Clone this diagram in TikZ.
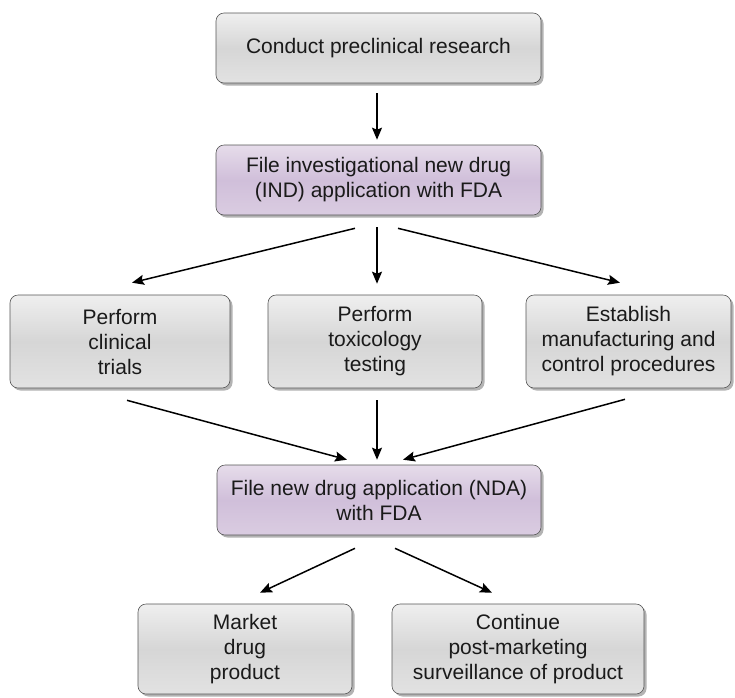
\documentclass[tikz,border=0pt]{standalone}
\usepackage{fontspec}
\setmainfont{Liberation Sans}
\usetikzlibrary{arrows.meta,shadows,calc}
\definecolor{grayTop}{HTML}{EFEFEF}
\definecolor{grayMid}{HTML}{D6D6D6}
\definecolor{grayBot}{HTML}{E2E2E2}
\definecolor{purpTop}{HTML}{E6DCEA}
\definecolor{purpMid}{HTML}{D0BFDA}
\definecolor{purpBot}{HTML}{DACCE1}
\definecolor{edgeC}{HTML}{555555}
\definecolor{txtC}{HTML}{1A1A1A}
\tikzset{
  box/.style={rectangle, rounded corners=8pt, draw=edgeC, line width=0.6pt,
    align=center, text=txtC, font=\fontsize{21}{25}\selectfont,
    drop shadow={shadow xshift=2.5pt, shadow yshift=-2.5pt, fill=black!50, opacity=0.6}},
  graybox/.style={box, top color=grayTop, bottom color=grayBot, middle color=grayMid},
  purpbox/.style={box, top color=purpTop, bottom color=purpBot, middle color=purpMid},
  arr/.style={line width=1.5pt, -{Stealth[length=12pt,width=10pt,inset=2pt]}}
}
\begin{document}
\begin{tikzpicture}[x=1pt,y=-1pt]
\useasboundingbox (0,0) rectangle (735,697);
\node[graybox, minimum width=325pt, minimum height=70pt] (b1) at (378.5,48) {Conduct preclinical research};
\node[purpbox, minimum width=325pt, minimum height=70pt] (b2) at (378.5,180) {File investigational new drug\\(IND) application with FDA};
\node[graybox, minimum width=220pt, minimum height=93pt] (b3) at (120,341.5) {Perform\\clinical\\trials};
\node[graybox, minimum width=214pt, minimum height=93pt] (b4) at (375,341.5) {Perform\\toxicology\\testing};
\node[graybox, minimum width=205pt, minimum height=93pt] (b5) at (628.5,341.5) {Establish\\manufacturing and\\control procedures};
\node[purpbox, minimum width=324pt, minimum height=70pt] (b6) at (379,500) {File new drug application (NDA)\\with FDA};
\node[graybox, minimum width=214pt, minimum height=90pt] (b7) at (245,649) {Market\\drug\\product};
\node[graybox, minimum width=252pt, minimum height=90pt] (b8) at (518,649) {Continue\\post-marketing\\surveillance of product};

\draw[arr] ($(b1.south)+(-1.5,10)$) -- ($(b2.north)+(-1.5,-5)$);
\draw[arr] ($(b2.south)+(-23.5,13)$) -- ($(b3.north)+(12,-12)$);
\draw[arr] ($(b2.south)+(-1.5,12)$) -- ($(b4.north)+(2,-11)$);
\draw[arr] ($(b2.south)+(19.5,13)$) -- ($(b5.north)+(-8.5,-12)$);
\draw[arr] ($(b3.south)+(7,12)$) -- ($(b6.north)+(-32,-5)$);
\draw[arr] ($(b4.south)+(2,12)$) -- ($(b6.north)+(-2,-5)$);
\draw[arr] ($(b5.south)+(-3.5,11)$) -- ($(b6.north)+(24,-5)$);
\draw[arr] ($(b6.south)+(-24,13)$) -- ($(b7.north)+(15,-11)$);
\draw[arr] ($(b6.south)+(16,13)$) -- ($(b8.north)+(-26,-11)$);
\end{tikzpicture}
\end{document}
